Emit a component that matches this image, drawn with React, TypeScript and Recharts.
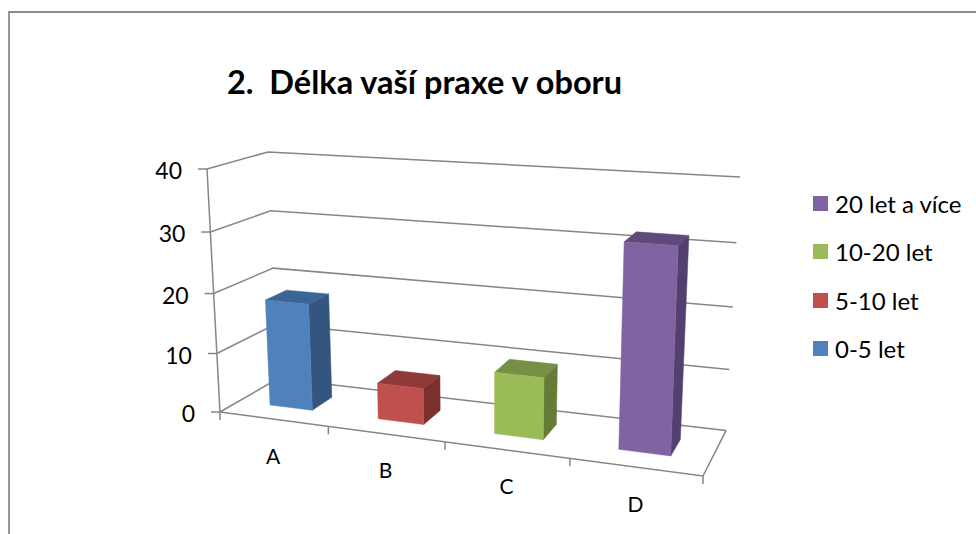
import React from "react";
import { BarChart, Bar, XAxis, YAxis, CartesianGrid, Legend } from "recharts";

const categories = ["A", "B", "C", "D"];
const seriesNames = ["0-5 let", "5-10 let", "10-20 let", "20 let a více"];
const years0to5 = [18, null, null, null];
const years5to10 = [null, 6, null, null];
const years10to20 = [null, null, 10, null];
const years20plus = [null, null, null, 32];
const seriesValues = [years0to5, years5to10, years10to20, years20plus];
const valueTicks = [0, 10, 20, 30, 40];
const titleText = "2.  Délka vaší praxe v oboru";

const fills = [
  { front: "#4F81BD", side: "#33557E", top: "#3A6595" },
  { front: "#C0504D", side: "#7B302E", top: "#8F3A38" },
  { front: "#9BBB59", side: "#647C38", top: "#768F43" },
  { front: "#8064A2", side: "#54406F", top: "#604A7B" },
];

const rows = categories.map((name, i) => {
  const row: Record<string, any> = { name };
  seriesNames.forEach((s, j) => {
    row[s] = seriesValues[j][i];
  });
  return row;
});

// flat plot rectangle that Recharts lays out; scales run inside it
const PLOT = { left: 100, top: 100, width: 800, height: 400 };
const LINE = "#868686";
const FONT = "Lato, 'Open Sans', sans-serif";

// corners of the 3D box that the flat plot is projected onto
const FL0 = [220, 412], FR0 = [703, 476], BL0 = [278, 378.6], BR0 = [726, 430.6];
const FL1 = [207, 169], FR1 = [713, 201], BL1 = [268, 152], BR1 = [740, 177];

const mix = (a: number[], b: number[], t: number) => [a[0] + (b[0] - a[0]) * t, a[1] + (b[1] - a[1]) * t];
const warp = (u: number) => (417 * u + 66 * u * u) / 483;
const warpV = (v: number) => v - 0.05 * v * (1 - v);
const project = (u: number, d: number, v: number) => {
  const w = warp(u);
  const low = mix(mix(FL0, FR0, w), mix(BL0, BR0, w), d);
  const high = mix(mix(FL1, FR1, w), mix(BL1, BR1, w), d);
  return mix(low, high, warpV(v));
};
const toU = (x: number) => (x - PLOT.left) / PLOT.width;
const toV = (y: number) => (PLOT.top + PLOT.height - y) / PLOT.height;
const pts = (list: number[][]) => list.map((p) => `${p[0]},${p[1]}`).join(" ");

const BAR_FRONT = 0.33;
const BAR_BACK = 0.7;

function makeBox(index: number) {
  return function Box(props: any) {
    const { x, y, width, height } = props;
    if (!height || !width) return <g />;
    const u0 = toU(x), u1 = toU(x + width), v0 = toV(y + height), v1 = toV(y);
    const p = (u: number, d: number, v: number) => project(u, d, v);
    const c = fills[index];
    return (
      <g>
        <polygon points={pts([p(u1, BAR_FRONT, v0), p(u1, BAR_BACK, v0), p(u1, BAR_BACK, v1), p(u1, BAR_FRONT, v1)])} fill={c.side} stroke={c.side} strokeWidth={0.5} />
        <polygon points={pts([p(u0, BAR_FRONT, v1), p(u1, BAR_FRONT, v1), p(u1, BAR_BACK, v1), p(u0, BAR_BACK, v1)])} fill={c.top} stroke={c.top} strokeWidth={0.5} />
        <polygon points={pts([p(u0, BAR_FRONT, v0), p(u1, BAR_FRONT, v0), p(u1, BAR_FRONT, v1), p(u0, BAR_FRONT, v1)])} fill={c.front} stroke={c.front} strokeWidth={0.5} />
      </g>
    );
  };
}

function gridLine(props: any) {
  const v = toV(props.y1);
  const isFloor = Math.abs(v) < 1e-6;
  const isTop = Math.abs(v - 1) < 1e-6;
  const a = project(0, 0, v), b = project(0, 1, v), c = project(1, 1, v);
  return (
    <g key={props.key ?? v}>
      <polyline points={pts([a, b, c])} fill="none" stroke={LINE} strokeWidth={1.5} />
      {isFloor && (
        <polyline points={pts([a, project(1, 0, 0), c])} fill="none" stroke={LINE} strokeWidth={1.5} />
      )}
      {isTop && (
        <line x1={a[0]} y1={a[1]} x2={project(0, 0, 0)[0]} y2={project(0, 0, 0)[1]} stroke={LINE} strokeWidth={1.5} />
      )}
    </g>
  );
}

function YTick(props: any) {
  const v = toV(props.y);
  const p = project(0, 0, v);
  return (
    <g>
      <line x1={p[0] - 9} y1={p[1]} x2={p[0]} y2={p[1]} stroke={LINE} strokeWidth={1.5} />
      <text x={p[0] - 25} y={p[1] + 1} textAnchor="end" dominantBaseline="central" fontFamily={FONT} fontSize={23} fill="#000">
        {props.payload.value}
      </text>
    </g>
  );
}

function XTick(props: any) {
  const half = 0.5 / categories.length;
  const u = toU(props.x);
  const p = project(u, 0, 0);
  const boundary = [project(u + half, 0, 0)];
  if (props.index === 0) boundary.push(project(u - half, 0, 0));
  return (
    <g>
      {boundary.map((b, i) => (
        <line key={i} x1={b[0]} y1={b[1]} x2={b[0]} y2={b[1] + 8} stroke={LINE} strokeWidth={1.5} />
      ))}
      <text x={p[0]} y={p[1] + 36} textAnchor="middle" dominantBaseline="central" fontFamily={FONT} fontSize={21} fill="#000">
        {props.payload.value}
      </text>
    </g>
  );
}

function LegendBox(props: any) {
  const items = [...(props.payload || [])].sort(
    (a: any, b: any) => seriesNames.indexOf(b.value) - seriesNames.indexOf(a.value)
  );
  return (
    <div style={{ fontFamily: FONT, fontSize: 24, color: "#000" }}>
      {items.map((it: any) => (
        <div key={it.value} style={{ display: "flex", alignItems: "center", height: 48.5, whiteSpace: "nowrap" }}>
          <span style={{ width: 15, height: 15, background: it.color, marginRight: 7, display: "inline-block" }} />
          <span>{it.value}</span>
        </div>
      ))}
    </div>
  );
}

export default function App() {
  return (
    <div style={{ position: "absolute", left: 0, top: 0, width: 976, height: 534, overflow: "hidden", background: "#fff" }}>
      <div style={{ position: "absolute", left: 8, top: 11, width: 980, height: 540, borderLeft: "2px solid #969696", borderTop: "2px solid #8C8C8C" }} />
      <div style={{ position: "absolute", left: 227, top: 62, fontFamily: FONT, fontWeight: 700, fontSize: 32.5, lineHeight: "40px", whiteSpace: "pre", color: "#000" }}>
        {titleText}
      </div>
      <div style={{ position: "absolute", left: 0, top: 0 }}>
        <BarChart
          width={976}
          height={534}
          data={rows}
          barCategoryGap="30%"
          margin={{ top: PLOT.top, left: 60, right: 76, bottom: 4 }}
        >
          <CartesianGrid horizontal={gridLine} vertical={false} />
          <XAxis dataKey="name" height={30} axisLine={false} tickLine={false} tick={XTick} interval={0} />
          <YAxis width={40} domain={[0, 40]} ticks={valueTicks} axisLine={false} tickLine={false} tick={YTick} interval={0} />
          <Legend
            layout="vertical"
            align="center"
            verticalAlign="middle"
            content={LegendBox}
            wrapperStyle={{ position: "absolute", left: 813, top: 179, width: 163 }}
          />
          {seriesNames.map((s, i) => (
            <Bar key={s} dataKey={s} stackId="all" fill={fills[i].front} shape={makeBox(i)} isAnimationActive={false} />
          ))}
        </BarChart>
      </div>
    </div>
  );
}
